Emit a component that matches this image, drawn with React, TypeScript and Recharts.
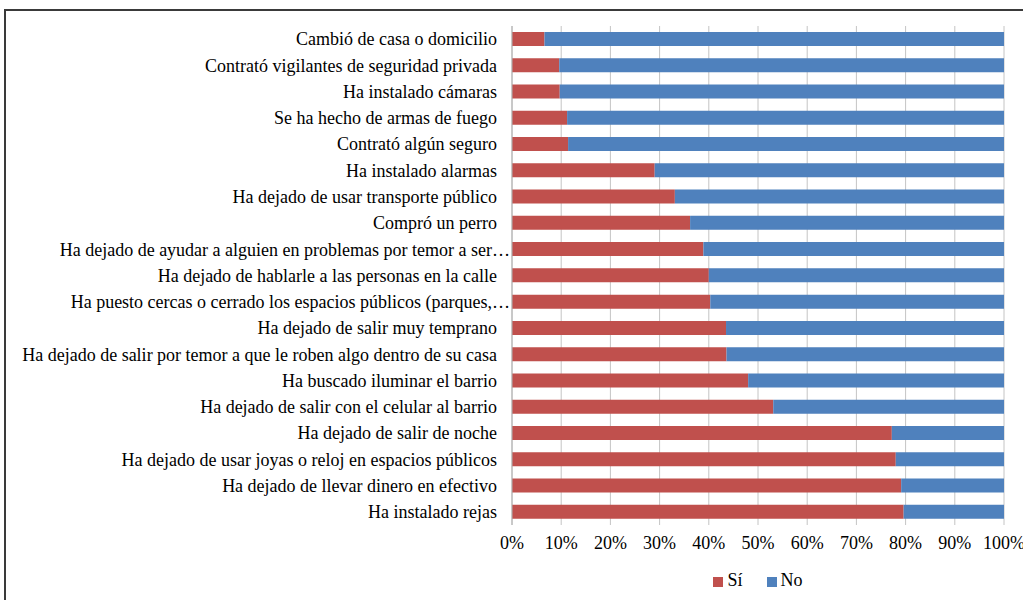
import { Bar, BarChart, CartesianGrid, Legend, XAxis, YAxis } from "recharts";

const categories = [
  "Cambió de casa o domicilio",
  "Contrató vigilantes de seguridad privada",
  "Ha instalado cámaras",
  "Se ha hecho de armas de fuego",
  "Contrató algún seguro",
  "Ha instalado alarmas",
  "Ha dejado de usar transporte público",
  "Compró un perro",
  "Ha dejado de ayudar a alguien en problemas por temor a ser…",
  "Ha dejado de hablarle a las personas en la calle",
  "Ha puesto cercas o cerrado los espacios públicos (parques,…",
  "Ha dejado de salir muy temprano",
  "Ha dejado de salir por temor a que le roben algo dentro de su casa",
  "Ha buscado iluminar el barrio",
  "Ha dejado de salir con el celular al barrio",
  "Ha dejado de salir de noche",
  "Ha dejado de usar joyas o reloj en espacios públicos",
  "Ha dejado de llevar dinero en efectivo",
  "Ha instalado rejas",
];

const si = [6.6, 9.6, 9.7, 11.2, 11.4, 29.0, 33.1, 36.2, 38.9, 40.0, 40.3, 43.5, 43.6, 48.0, 53.1, 77.2, 78.0, 79.1, 79.6];
const no = [93.4, 90.4, 90.3, 88.8, 88.6, 71.0, 66.9, 63.8, 61.1, 60.0, 59.7, 56.5, 56.4, 52.0, 46.9, 22.8, 22.0, 20.9, 20.4];

const xTicks = [0, 10, 20, 30, 40, 50, 60, 70, 80, 90, 100];

const data = categories.map((name, i) => ({ name, si: si[i], no: no[i] }));

const FONT = '"Liberation Serif", "DejaVu Serif", serif';

function CategoryTick({ x, y, payload }: any) {
  const label: string = payload.value;
  const shift = label.endsWith("…") ? 13 : 0;
  return (
    <text
      x={x + shift}
      y={y}
      dy="0.35em"
      textAnchor="end"
      fill="#000"
      style={{ fontFamily: FONT, fontSize: 18 }}
    >
      {label}
    </text>
  );
}

export default function App() {
  return (
    <div
      style={{
        position: "absolute",
        left: 0,
        top: 0,
        width: 1023,
        height: 600,
        overflow: "hidden",
        background: "#fff",
        fontFamily: FONT,
      }}
    >
      <div
        style={{
          position: "absolute",
          left: 4,
          top: 9,
          width: 1019,
          height: 591,
          borderTop: "2px solid #3a3a3a",
          borderLeft: "2px solid #3a3a3a",
          boxSizing: "border-box",
        }}
      />
      <div style={{ position: "absolute", left: 0, top: 0 }}>
        <BarChart
          width={1023}
          height={600}
          data={data}
          layout="vertical"
          margin={{ top: 26, right: 19, bottom: 10, left: 0 }}
          barSize={14}
        >
          <CartesianGrid horizontal={false} stroke="#c4c4c4" />
          <XAxis
            type="number"
            domain={[0, 100]}
            ticks={xTicks}
            tickFormatter={(v) => `${v}%`}
            axisLine={false}
            tickLine={false}
            tickSize={0}
            tickMargin={11}
            height={45}
            interval={0}
            tick={{ fill: "#000", fontSize: 18, style: { fontFamily: FONT } }}
          />
          <YAxis
            type="category"
            dataKey="name"
            width={512}
            interval={0}
            tickLine={false}
            tickSize={0}
            tickMargin={15}
            axisLine={{ stroke: "#b0b0b0" }}
            tick={<CategoryTick />}
          />
          <Legend
            verticalAlign="bottom"
            height={20}
            iconType="square"
            iconSize={10}
            itemSorter={(item: any) => (item.value === "Sí" ? 0 : 1)}
            wrapperStyle={{ left: 520, width: 500 }}
            formatter={(v) => (
              <span style={{ color: "#000", fontSize: 18, fontFamily: FONT, marginRight: 14 }}>{v}</span>
            )}
          />
          <Bar dataKey="si" name="Sí" stackId="a" fill="#c0504d" isAnimationActive={false} />
          <Bar dataKey="no" name="No" stackId="a" fill="#4f81bd" isAnimationActive={false} />
        </BarChart>
      </div>
    </div>
  );
}
